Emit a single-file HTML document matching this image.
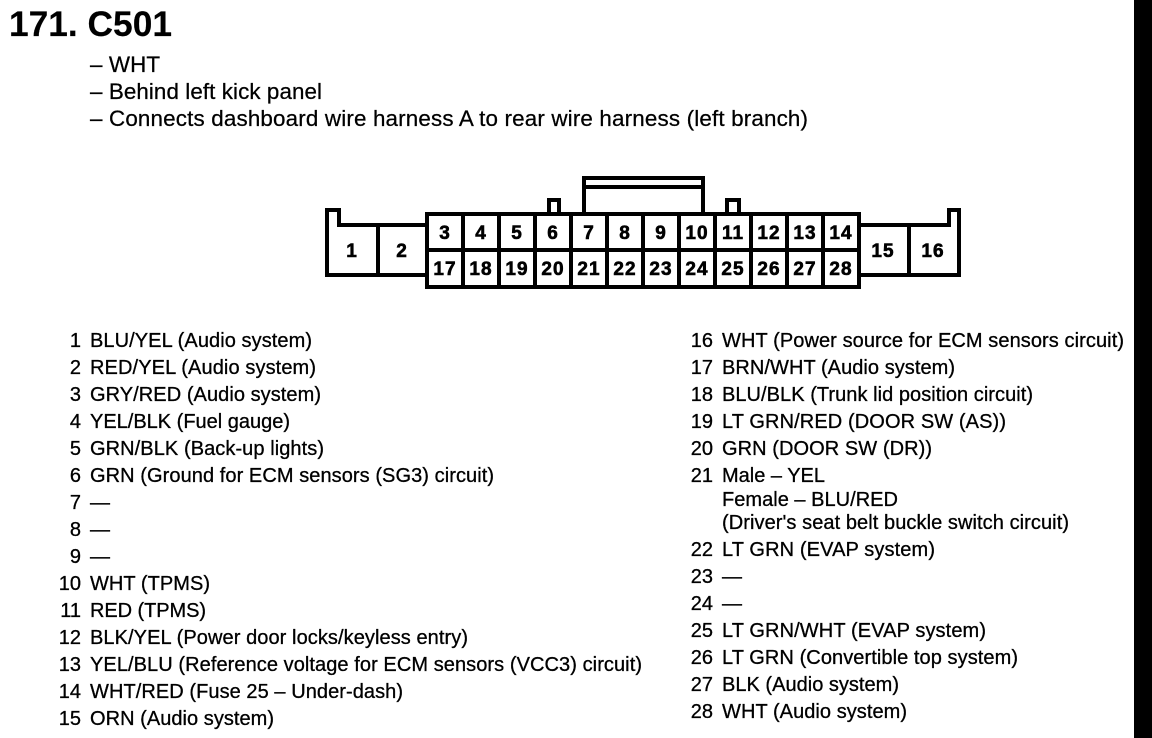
<!DOCTYPE html>
<html>
<head>
<meta charset="utf-8">
<style>
html,body{margin:0;padding:0;background:#fff;width:1152px;height:738px;overflow:hidden}
svg{display:block}
text{font-family:"Liberation Sans",sans-serif;fill:#000}
.t{font-size:20px;stroke:#000;stroke-width:.3}
.h{font-size:22.4px;stroke:#000;stroke-width:.25}
.n{font-size:20px;text-anchor:end;stroke:#000;stroke-width:.3}
.c{font-size:19px;font-weight:bold;text-anchor:middle;letter-spacing:1px;stroke:#000;stroke-width:.6}
.l{fill:none;stroke:#000;stroke-width:4;stroke-linejoin:miter}
</style>
</head>
<body>
<svg width="1152" height="738" viewBox="0 0 1152 738" xmlns="http://www.w3.org/2000/svg">
<rect x="0" y="0" width="1152" height="738" fill="#fff"/>
<rect x="1134" y="0" width="18" height="738" fill="#000"/>

<text x="9" y="36" font-size="35" font-weight="bold" stroke="#000" stroke-width=".15" textLength="163" lengthAdjust="spacingAndGlyphs">171. C501</text>
<text class="h" x="90" y="72" textLength="70">– WHT</text>
<text class="h" x="90" y="99" textLength="232">– Behind left kick panel</text>
<text class="h" x="90" y="126" textLength="718">– Connects dashboard wire harness A to rear wire harness (left branch)</text>

<!-- connector -->
<path class="l" d="M427 225H339V210H327V275H427"/>
<path class="l" d="M378 225V275"/>
<path class="l" d="M859 225H949V210H959V275H859"/>
<path class="l" d="M909 225V275"/>
<rect class="l" x="427" y="214" width="432" height="73"/>
<path class="l" d="M427 250H859"/>
<path class="l" d="M463 214V287M499 214V287M535 214V287M571 214V287M607 214V287M643 214V287M679 214V287M715 214V287M751 214V287M787 214V287M823 214V287"/>
<path class="l" d="M549 214V200H559V214"/>
<path class="l" d="M727 214V200H739V214"/>
<path class="l" d="M584 214V178H703V214"/>
<path class="l" d="M584 187H703"/>

<text class="c" x="352" y="257">1</text>
<text class="c" x="402" y="257">2</text>
<text class="c" x="883" y="257">15</text>
<text class="c" x="933" y="257">16</text>
<text class="c" x="445" y="239">3</text>
<text class="c" x="481" y="239">4</text>
<text class="c" x="517" y="239">5</text>
<text class="c" x="553" y="239">6</text>
<text class="c" x="589" y="239">7</text>
<text class="c" x="625" y="239">8</text>
<text class="c" x="661" y="239">9</text>
<text class="c" x="697" y="239">10</text>
<text class="c" x="733" y="239">11</text>
<text class="c" x="769" y="239">12</text>
<text class="c" x="805" y="239">13</text>
<text class="c" x="841" y="239">14</text>
<text class="c" x="445" y="275">17</text>
<text class="c" x="481" y="275">18</text>
<text class="c" x="517" y="275">19</text>
<text class="c" x="553" y="275">20</text>
<text class="c" x="589" y="275">21</text>
<text class="c" x="625" y="275">22</text>
<text class="c" x="661" y="275">23</text>
<text class="c" x="697" y="275">24</text>
<text class="c" x="733" y="275">25</text>
<text class="c" x="769" y="275">26</text>
<text class="c" x="805" y="275">27</text>
<text class="c" x="841" y="275">28</text>

<!-- left list -->
<text class="n" x="81" y="347">1</text><text class="t" x="90" y="347" textLength="222">BLU/YEL (Audio system)</text>
<text class="n" x="81" y="374">2</text><text class="t" x="90" y="374" textLength="226">RED/YEL (Audio system)</text>
<text class="n" x="81" y="401">3</text><text class="t" x="90" y="401" textLength="231">GRY/RED (Audio system)</text>
<text class="n" x="81" y="428">4</text><text class="t" x="90" y="428" textLength="200">YEL/BLK (Fuel gauge)</text>
<text class="n" x="81" y="455">5</text><text class="t" x="90" y="455" textLength="234">GRN/BLK (Back-up lights)</text>
<text class="n" x="81" y="482">6</text><text class="t" x="90" y="482" textLength="404">GRN (Ground for ECM sensors (SG3) circuit)</text>
<text class="n" x="81" y="509">7</text><text class="t" x="90" y="509">—</text>
<text class="n" x="81" y="536">8</text><text class="t" x="90" y="536">—</text>
<text class="n" x="81" y="563">9</text><text class="t" x="90" y="563">—</text>
<text class="n" x="81" y="590">10</text><text class="t" x="90" y="590" textLength="120">WHT (TPMS)</text>
<text class="n" x="81" y="617">11</text><text class="t" x="90" y="617" textLength="116">RED (TPMS)</text>
<text class="n" x="81" y="644">12</text><text class="t" x="90" y="644" textLength="378">BLK/YEL (Power door locks/keyless entry)</text>
<text class="n" x="81" y="671">13</text><text class="t" x="90" y="671" textLength="552">YEL/BLU (Reference voltage for ECM sensors (VCC3) circuit)</text>
<text class="n" x="81" y="698">14</text><text class="t" x="90" y="698" textLength="313">WHT/RED (Fuse 25 – Under-dash)</text>
<text class="n" x="81" y="725">15</text><text class="t" x="90" y="725" textLength="184">ORN (Audio system)</text>

<!-- right list -->
<text class="n" x="713" y="347">16</text><text class="t" x="722" y="347" textLength="402">WHT (Power source for ECM sensors circuit)</text>
<text class="n" x="713" y="374">17</text><text class="t" x="722" y="374" textLength="233">BRN/WHT (Audio system)</text>
<text class="n" x="713" y="401">18</text><text class="t" x="722" y="401" textLength="311">BLU/BLK (Trunk lid position circuit)</text>
<text class="n" x="713" y="428">19</text><text class="t" x="722" y="428" textLength="284">LT GRN/RED (DOOR SW (AS))</text>
<text class="n" x="713" y="455">20</text><text class="t" x="722" y="455" textLength="210">GRN (DOOR SW (DR))</text>
<text class="n" x="713" y="482">21</text><text class="t" x="722" y="482" textLength="103">Male – YEL</text>
<text class="t" x="722" y="506" textLength="176">Female – BLU/RED</text>
<text class="t" x="722" y="529" textLength="347">(Driver's seat belt buckle switch circuit)</text>
<text class="n" x="713" y="556">22</text><text class="t" x="722" y="556" textLength="213">LT GRN (EVAP system)</text>
<text class="n" x="713" y="583">23</text><text class="t" x="722" y="583">—</text>
<text class="n" x="713" y="610">24</text><text class="t" x="722" y="610">—</text>
<text class="n" x="713" y="637">25</text><text class="t" x="722" y="637" textLength="264">LT GRN/WHT (EVAP system)</text>
<text class="n" x="713" y="664">26</text><text class="t" x="722" y="664" textLength="296">LT GRN (Convertible top system)</text>
<text class="n" x="713" y="691">27</text><text class="t" x="722" y="691" textLength="177">BLK (Audio system)</text>
<text class="n" x="713" y="718">28</text><text class="t" x="722" y="718" textLength="185">WHT (Audio system)</text>
</svg>
</body>
</html>
